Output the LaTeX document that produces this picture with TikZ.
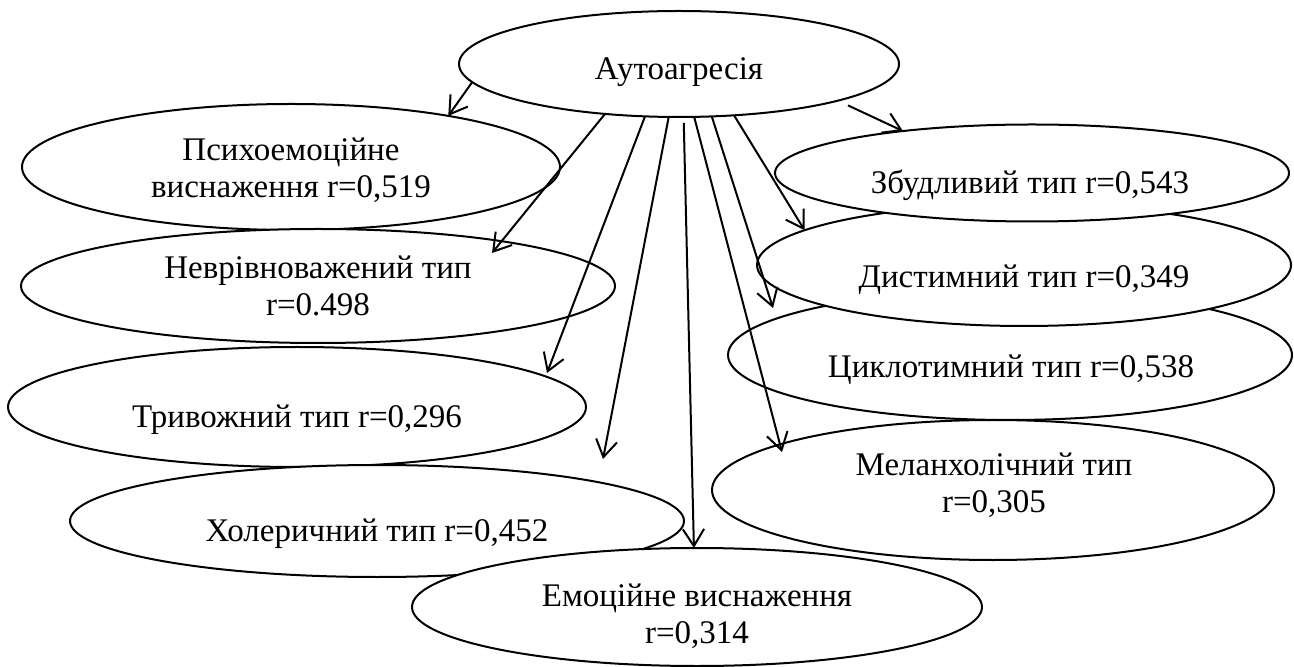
\documentclass[tikz,border=0pt]{standalone}
\usepackage{fontspec}
\setmainfont{Liberation Serif}
\usetikzlibrary{shapes.geometric,arrows.meta}
\tikzset{
  ell/.style={ellipse, draw, fill=white, line width=1pt, inner sep=0pt, outer sep=0pt},
  txt/.style={inner sep=0pt, anchor=base, font=\fontsize{16.5pt}{19.5pt}\selectfont},
  arr/.style={line width=1pt, -{Straight Barb[length=8.5pt,width=10.6pt]}}
}
\begin{document}
\begin{tikzpicture}[x=0.5pt,y=-0.5pt]
\useasboundingbox (0,0) rectangle (1294,667);
% ellipses (drawing order matters for overlaps)
\node[ell, minimum width=220pt, minimum height=53pt] (A) at (679,64) {};
\node[txt] (tA) at (679,80) {Аутоагресія};
\node[ell, minimum width=269pt, minimum height=63pt] (B) at (291,167) {};
\node[txt] (tB1) at (291,161) {Психоемоційне};
\node[txt] (tB2) at (291,198) {виснаження r=0,519};
\node[ell, minimum width=297pt, minimum height=57pt] (C) at (318,286) {};
\node[txt] (tC1) at (318,279) {Неврівноважений тип};
\node[txt] (tC2) at (318,316) {r=0.498};
\node[ell, minimum width=289pt, minimum height=60pt] (D) at (297,407) {};
\node[txt] (tD1) at (297,428) {Тривожний тип r=0,296};
\node[ell, minimum width=307pt, minimum height=56pt] (E) at (377,521) {};
\node[txt] (tE1) at (377,541) {Холеричний тип r=0,452};
\node[ell, minimum width=285pt, minimum height=59pt] (F) at (697,607) {};
\node[txt] (tF1) at (697,606) {Емоційне виснаження};
\node[txt] (tF2) at (697,643) {r=0,314};
\node[ell, minimum width=282pt, minimum height=65pt] (I) at (1010,355) {};
\node[txt] (tI1) at (1011,378) {Циклотимний тип r=0,538};
\node[ell, minimum width=267pt, minimum height=61pt] (H) at (1024,265) {};
\node[txt] (tH1) at (1024,288) {Дистимний тип r=0,349};
\node[ell, minimum width=257pt, minimum height=48.5pt] (G) at (1032,173) {};
\node[txt] (tG1) at (1030,194) {Збудливий тип r=0,543};
\node[ell, minimum width=281pt, minimum height=70pt] (J) at (993,490) {};
\node[txt] (tJ1) at (994,475) {Меланхолічний тип};
\node[txt] (tJ2) at (994,512) {r=0,305};
% free arrow ends
\coordinate (eC) at (492,253);
\coordinate (eD) at (547,373);
\coordinate (eE) at (603,459);
\coordinate (eJ) at (782,452);
\coordinate (eI) at (773,308);
% arrows
\draw[arr] (A.185.6) -- (B.18.8);
\draw[arr, shorten <=5.6pt] (A.347.9) -- (G.162.6);
\draw[arr] (A.214.2) -- (eC);
\draw[arr] (A.237.5) -- (eD);
\draw[arr] (A.259.5) -- (eE);
\draw[arr, shorten <=3pt] (A.275.3) -- (F.93.8);
\draw[arr] (A.286.5) -- (eJ);
\draw[arr] (A.302.6) -- (eI);
\draw[arr] (A.317.5) -- (H.171.4);
\end{tikzpicture}
\end{document}
